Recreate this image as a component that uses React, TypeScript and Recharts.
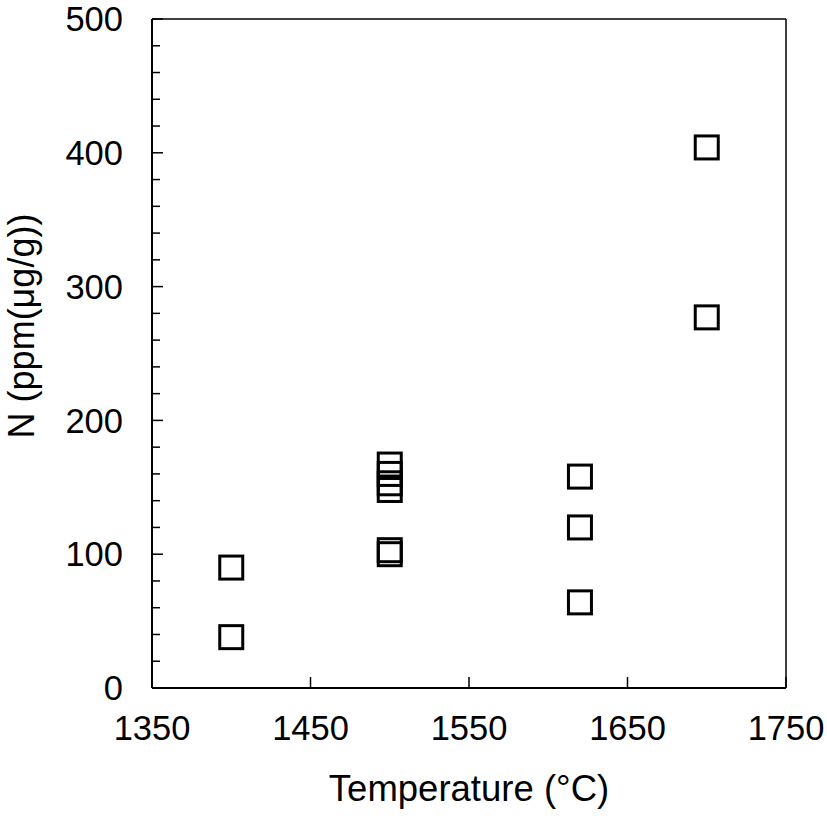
import React from 'react'
import { ScatterChart, Scatter, XAxis, YAxis, ReferenceLine } from 'recharts'

// temperature (°C) and nitrogen content N (ppm, µg/g)
const temps = [1400, 1400, 1500, 1500, 1500, 1500, 1500, 1500, 1620, 1620, 1620, 1700, 1700]
const nitrogen = [38, 90, 167, 160, 153, 148, 103, 100, 158, 120, 64, 404, 277]

const xTicks = [1350, 1450, 1550, 1650, 1750]
const yTicks = [0, 20, 40, 60, 80, 100, 120, 140, 160, 180, 200, 220, 240, 260, 280, 300, 320, 340, 360, 380, 400, 420, 440, 460, 480, 500]

const data = temps.map((t, i) => ({ t, n: nitrogen[i] }))

const FONT = '"Liberation Sans", Arial, sans-serif'
const X_MARGIN = 28
const Y_MARGIN = 29

function XTick(props: any) {
  const { x, y, payload } = props
  const base = y - X_MARGIN
  return (
    <g>
      <line x1={x} y1={base} x2={x} y2={base - 11} stroke="#000" strokeWidth={1.5} />
      <text x={x} y={y} dy="0.71em" textAnchor="middle" fontSize={34.5} fontFamily={FONT} fill="#000">
        {payload.value}
      </text>
    </g>
  )
}

function YTick(props: any) {
  const { x, y, payload } = props
  const base = x + Y_MARGIN
  const major = payload.value % 100 === 0
  return (
    <g>
      <line x1={base} y1={y} x2={base + (major ? 11 : 8)} y2={y} stroke="#000" strokeWidth={1.5} />
      {major && (
        <text x={x} y={y} dy="0.355em" textAnchor="end" fontSize={34.5} fontFamily={FONT} fill="#000">
          {payload.value}
        </text>
      )}
    </g>
  )
}

function SquareMark(props: any) {
  const { cx, cy } = props
  const s = 23
  return <rect x={cx - s / 2} y={cy - s / 2} width={s} height={s} fill="none" stroke="#000" strokeWidth={3} />
}

export default function App() {
  return (
    <div style={{ position: 'absolute', left: 0, top: 0, width: 827, height: 820, background: '#fff' }}>
      <ScatterChart width={827} height={820} margin={{ top: 19, right: 41, bottom: 72, left: 42 }}>
        <XAxis
          type="number"
          dataKey="t"
          domain={[1350, 1750]}
          ticks={xTicks}
          interval={0}
          height={60}
          tickSize={0}
          tickLine={false}
          tickMargin={X_MARGIN}
          axisLine={{ stroke: '#000', strokeWidth: 2 }}
          tick={<XTick />}
        />
        <YAxis
          type="number"
          dataKey="n"
          domain={[0, 500]}
          ticks={yTicks}
          interval={0}
          width={110}
          tickSize={0}
          tickLine={false}
          tickMargin={Y_MARGIN}
          axisLine={{ stroke: '#000', strokeWidth: 2 }}
          tick={<YTick />}
        />
        <ReferenceLine y={500} stroke="#000" strokeWidth={1.5} />
        <ReferenceLine x={1750} stroke="#000" strokeWidth={1.5} />
        <Scatter data={data} shape={<SquareMark />} isAnimationActive={false} />
      </ScatterChart>
      <div
        style={{
          position: 'absolute',
          left: 469,
          top: 800,
          transform: 'translate(-50%, -80%)',
          fontFamily: FONT,
          fontSize: 36.5,
          whiteSpace: 'nowrap',
          lineHeight: 1,
        }}
      >
        Temperature (°C)
      </div>
      <div
        style={{
          position: 'absolute',
          left: 22,
          top: 326,
          transform: 'translate(-50%, -50%) rotate(-90deg)',
          fontFamily: FONT,
          fontSize: 36,
          whiteSpace: 'nowrap',
          lineHeight: 1,
        }}
      >
        N (ppm(μg/g))
      </div>
    </div>
  )
}
